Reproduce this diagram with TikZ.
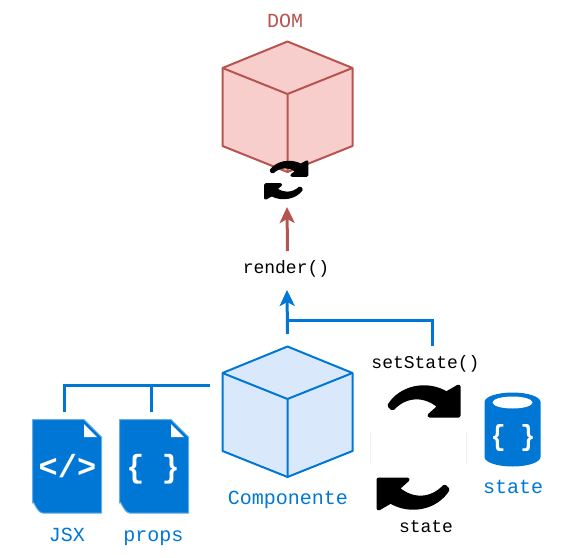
\documentclass[tikz,border=0pt]{standalone}
\usepackage{fontspec}
\setmonofont{Liberation Mono}
\usetikzlibrary{arrows.meta}
\definecolor{reactblue}{HTML}{0077D5}
\definecolor{cubeblue}{HTML}{DAE8FC}
\definecolor{domred}{HTML}{B85450}
\definecolor{cubered}{HTML}{F8CECC}
\begin{document}
\begin{tikzpicture}[
    x=1pt, y=-1pt,
    label/.style={font=\ttfamily\fontsize{20}{24}\selectfont, inner sep=0pt, anchor=base},
    codelabel/.style={font=\ttfamily\fontsize{18}{22}\selectfont, inner sep=0pt, anchor=base, text=black},
    glyph/.style={font=\ttfamily\bfseries\fontsize{#1}{#1}\selectfont, inner sep=0pt, text=white},
    bluearrow/.style={draw=reactblue, line width=3pt},
    redarrow/.style={draw=domred, line width=3pt},
    tip/.style={-{Stealth[length=16pt,width=15pt,inset=4pt]}},
    doc/.style={fill=reactblue, draw=reactblue!60, line width=1pt},
    pics/cube/.style 2 args={code={
        \draw[draw=#1, fill=#2, line width=2pt, line join=round]
            (0,0) -- (65,26.5) -- (65,104.5) -- (0,130.5) -- (-65,104.5) -- (-65,26.5) -- cycle;
        \draw[draw=#1, line width=2pt, line join=round]
            (-65,26.5) -- (0,52.5) -- (65,26.5) (0,52.5) -- (0,130.5);
    }},
    pics/docfile/.style={code={
        \draw[doc, line join=round] (0,0) -- (51.5,0) -- (69,17.5) -- (69,93.5) -- (10,93.5)
            to[out=180,in=90] (0,83.5) -- cycle;
        \fill[white] (51.5,4.5) -- (51.5,17.5) -- (64.5,17.5) -- cycle;
    }},
    pics/syncarrow/.style={code={
        \fill[black, draw=black, line join=round]
            (-71,21) .. controls (-60,3) and (-34,-3) .. (-14,9) -- (-2,2) -- (-2,31) -- (-31,31) -- (-21,22)
            .. controls (-36,9) and (-55,10) .. (-68,24) -- cycle;
    }}
]
\useasboundingbox (0,0) rectangle (581,557);

% cubes
\pic at (287.5,41.5) {cube={domred}{cubered}};
\pic at (287.5,346.5) {cube={reactblue}{cubeblue}};

% render sync
\pic[xscale=.52, yscale=.46, line width=3pt] at (308,161) {syncarrow};
\pic[xscale=.52, yscale=.46, line width=3pt, rotate=180] at (264.5,199) {syncarrow};

% state sync
\pic[line width=4pt] at (460.5,384.5) {syncarrow};
\pic[line width=4pt, rotate=180] at (376.6,510.5) {syncarrow};
\draw[black!5, line width=.7pt] (370.5,432) -- (370.5,465) (466.5,432) -- (466.5,465);

% files
\pic at (32.5,419.5) {docfile};
\pic at (119.5,419.5) {docfile};
\node[glyph=32] (jsxglyph) at (67.5,466) {</>};
\node[glyph=32, xscale=.92, transform shape] (propsglyph) at (153,469) {\{ \}};

% state store
\fill[reactblue] (484.5,402) arc[x radius=28, y radius=9.5, start angle=180, end angle=360]
    -- (540.5,457) arc[x radius=28, y radius=9.5, start angle=0, end angle=180] -- cycle;
\fill[white] (512.5,402.5) ellipse[x radius=20, y radius=6];
\node[glyph=29, xscale=.85, transform shape] (stateglyph) at (513,438) {\{ \}};

% labels
\node[label, text=domred] (dom) at (285,27) {DOM};
\node[codelabel] (render) at (286,273.5) {render()};
\node[label, text=reactblue] (comp) at (288,504.5) {Componente};
\node[codelabel] (setstate) at (425.5,368) {setState()};
\node[codelabel] (statein) at (426,532) {state};
\node[label, text=reactblue] (statestore) at (513,493) {state};
\node[label, text=reactblue] (jsx) at (67,541.5) {JSX};
\node[label, text=reactblue] (props) at (153.5,541.5) {props};

% connector ends
\coordinate (domin) at (287,207);
\coordinate (renderout) at (287.5,251);
\coordinate (renderin) at (287,290);
\coordinate (compout) at (287.5,334);
\coordinate (setout) at (432.5,346);
\coordinate (setjoin) at (287.5,320.5);
\coordinate (jsxend) at (64.5,412);
\coordinate (propsend) at (151.5,412);
\coordinate (busend) at (209.5,385);

\draw[redarrow, tip] (renderout) -- (domin);
\draw[bluearrow, tip] (compout) -- (renderin);
\draw[bluearrow] (setout) |- (setjoin);
\draw[bluearrow] (jsxend) |- (busend);
\draw[bluearrow] (propsend) -- (propsend |- busend);
\end{tikzpicture}
\end{document}
